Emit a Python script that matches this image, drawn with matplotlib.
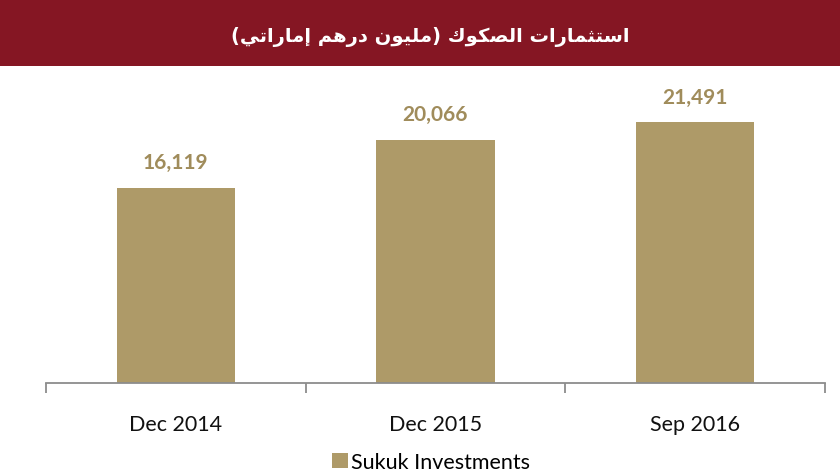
import matplotlib
matplotlib.use("Agg")
import matplotlib.pyplot as plt
from matplotlib.patches import Rectangle
import numpy as np

# data
periods = ["Dec 2014", "Dec 2015", "Sep 2016"]
sukuk = [16119, 20066, 21491]
series_name = "Sukuk Investments"

# title: "استثمارات الصكوك (مليون درهم إماراتي)" written as shaped glyphs in visual order
title_words = [
    "(" + "\ufef2\ufe97\ufe8d\ufead\ufe8e\ufee3\ufe87",   # إماراتي
    "\ufee2\ufeeb\ufead\ufea9",                           # درهم
    "\ufee5\ufeee\ufef4\ufee0\ufee3" + ")",               # مليون
    "\ufed9\ufeee\ufedc\ufebc\ufedf\ufe8d",               # الصكوك
    "\ufe95\ufe8d\ufead\ufe8e\ufee4\ufe9c\ufe98\ufeb3\ufe8d",  # استثمارات
]
title_text = " ".join(title_words)

bar_color = "#ae9a68"
label_color = "#a08c5b"
banner_color = "#851623"

fig = plt.figure(figsize=(8.4, 4.77), dpi=100)

# title banner
fig.patches.append(Rectangle((0, 1 - 67 / 477), 1, 67 / 477, transform=fig.transFigure,
                             facecolor=banner_color, edgecolor="none", zorder=0))
fig.text(0.512, 1 - 37 / 477, title_text, color="white", fontsize=14, fontweight="bold",
         family=["DejaVu Sans"], ha="center", va="center")

ax = fig.add_axes([46 / 840, 1 - 384 / 477, 779 / 840, 314 / 477])
x = np.arange(len(periods))
bars = ax.bar(x, sukuk, width=0.456, color=bar_color, label=series_name, zorder=2)

for xi, v in zip(x, sukuk):
    ax.annotate(f"{v:,}", (xi, v), xytext=(0, 11), textcoords="offset points",
                ha="center", va="bottom", fontsize=15, fontweight="bold",
                color=label_color, family="Lato")

ax.set_xlim(-0.5, len(periods) - 0.5)
ax.set_ylim(0, 25900)
ax.set_yticks([])
for s in ["top", "right", "left"]:
    ax.spines[s].set_visible(False)
ax.spines["bottom"].set_color("#8c8c8c")
ax.spines["bottom"].set_linewidth(1.3)

ax.set_xticks(x)
ax.set_xticklabels(periods, fontsize=15.5, family="Lato", color="#111111")
ax.tick_params(axis="x", which="major", length=0, pad=22)
ax.set_xticks(np.arange(-0.5, len(periods)), minor=True)
ax.tick_params(axis="x", which="minor", length=7, color="#8c8c8c", width=1.3)

leg = fig.legend(loc="center", bbox_to_anchor=(0.513, 1 - 463 / 477), frameon=False,
                 handlelength=0.75, handleheight=0.75, handletextpad=0.12,
                 prop={"family": "Lato", "size": 15.5})

fig.savefig("out.png", dpi=100)
